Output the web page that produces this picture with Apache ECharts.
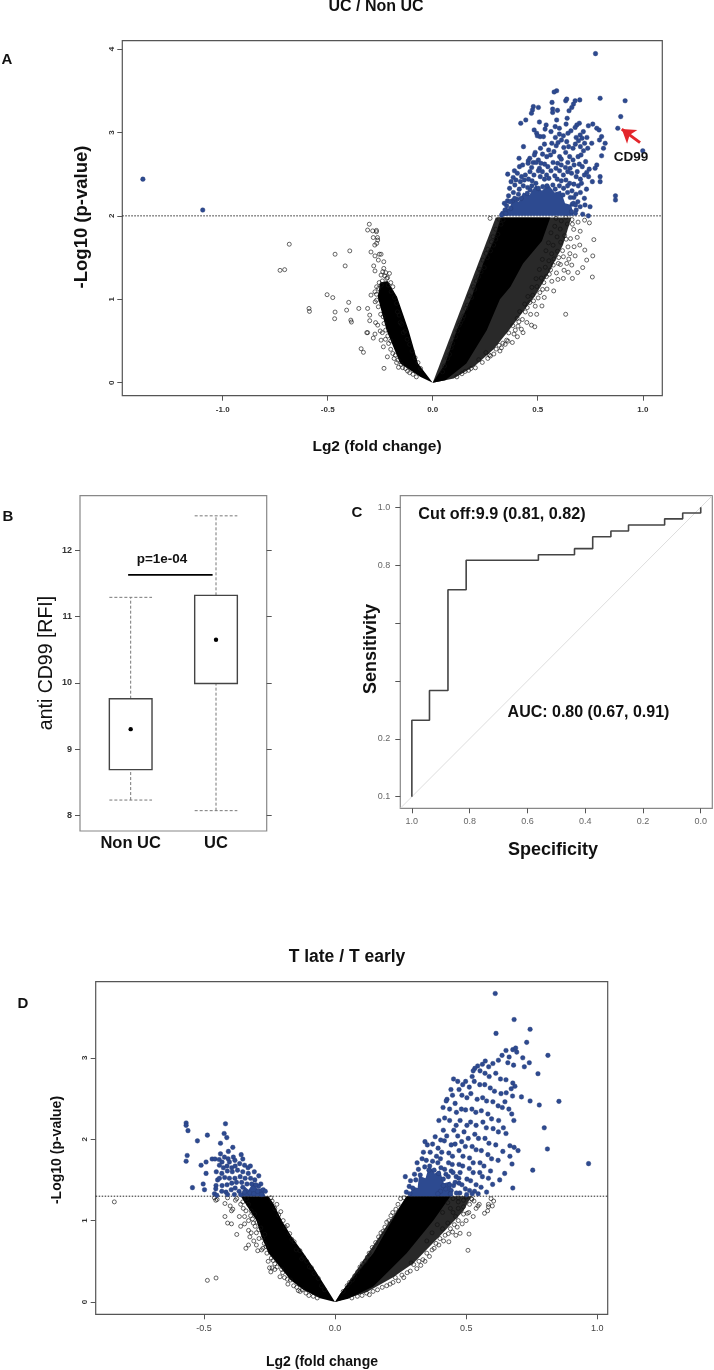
<!DOCTYPE html>
<html><head><meta charset="utf-8">
<style>html,body{margin:0;padding:0;background:#fff}#c{width:714px;height:1370px}</style>
<script src="https://cdn.jsdelivr.net/npm/echarts@6/dist/echarts.min.js"></script>
</head><body><div id="c"></div>
<script>
// Panel A
const aTicksX=[-1,-0.5,0,0.5,1];
const aTicksY=[0,1,2,3,4];
const aThreshold=2;
const aCoreRight=[[0,0],[.06,.23],[.114,.63],[.186,1.03],[.24,1.43],[.29,1.7],[.325,1.98],[.56,1.98],[.52,1.7],[.43,1.43],[.37,1.15],[.32,1],[.257,.63],[.16,.23],[.06,.03]];
const aSpeckleRight=[[.3,1.98],[.66,1.98],[.62,1.65],[.56,1.35],[.49,1.05],[.43,.85],[.36,.62],[.29,.4],[.2,.2],[.1,.05],[0,0]];
const aCoreLeft=[[0,0],[-.06,.07],[-.155,.23],[-.22,.63],[-.262,1.03],[-.25,1.2],[-.215,1.22],[-.17,1.03],[-.115,.63],[-.07,.23]];
const aBlueCore=[[.335,2],[.35,2.1],[.365,2.08],[.38,2.2],[.41,2.17],[.43,2.28],[.46,2.25],[.49,2.37],[.52,2.3],[.55,2.38],[.58,2.28],[.61,2.3],[.63,2.15],[.66,2.13],[.67,2]];
const aBlack=[[-.683,1.66],[-.705,1.355],[-.727,1.347],[-.465,1.54],[-.395,1.58],[-.417,1.4],[-.503,1.055],[-.476,1.02],[-.4,.963],[-.352,.89],[-.31,.89],[-.589,.89],[-.587,.855],[-.465,.847],[-.41,.87],[-.467,.767],[-.39,.75],[-.387,.727],[-.3,.81],[-.3,.743],[-.31,.6],[-.314,.6],[-.275,.583],[-.283,.535],[-.341,.407],[-.33,.364],[-.232,.172],[-.163,.184],[-.216,.31],[-.235,.43],[-.246,.51],[-.294,1.05],[-.302,1.9],[-.31,1.83],[-.286,1.82],[-.268,1.826],[-.268,1.81],[-.263,1.74],[-.283,1.74],[-.262,1.71],[-.267,1.67],[-.276,1.65],[-.294,1.567],[-.275,1.52],[-.254,1.54],[-.246,1.54],[-.259,1.47],[-.233,1.45],[-.281,1.4],[-.275,1.34],[-.233,1.37],[-.246,1.29],[-.206,1.31],[-.219,1.25],[-.19,1.15],[-.267,1.15],[-.275,1.09],[-.267,.99],[-.259,.91],[-.24,1.22],[-.255,1.2],[-.228,1.28],[-.272,.72],[-.262,.69],[-.25,.62],[-.24,.6],[-.225,.52],[-.21,.47],[-.2,.4],[-.19,.35],[-.178,.33],[-.165,.27],[-.15,.22],[-.13,.17],[-.11,.12],[-.168,.85],[-.155,.72],[-.14,.6],
[-.274,.97],[-.268,1.06],[-.258,1.13],[-.245,1.17],[-.236,.79],[-.248,.82],[-.232,.71],[-.224,.63],[-.214,.56],[-.2,.5],[-.184,.29],[-.172,.24],[-.143,.18],[-.12,.14],[-.094,.1],[-.078,.07],[-.212,1.17],[-.198,1.09],[-.182,1.02],[-.172,.95],[-.16,.81],[-.148,.7],[-.131,.62],[-.122,.52],[-.11,.46],[-.098,.38],[-.084,.3],[-.07,.24],[-.058,.17],[-.224,1.32],[-.238,1.33],[-.215,1.26],[-.2,1.2],
[.767,1.715],[.724,1.59],[.762,1.52],[.733,1.47],[.76,1.267],[.714,1.38],[.69,1.32],[.633,.82],[.576,1.1],[.52,.92],[.495,.82],[.486,.67],[.47,.69],[.43,.6],[.32,.38],[.27,.33],[.352,.51],[.673,1.63],[.7,1.65],[.678,1.52],[.622,1.51],[.598,1.43],[.662,1.41],[.638,1.43],[.665,1.25],[.622,1.25],[.273,1.97],
[.315,1.96],[.325,1.9],[.3,1.84],[.31,1.78],[.335,1.95],[.3,1.72],[.29,1.65],[.275,1.58],[.262,1.6],[.26,1.5],[.245,1.38],[.23,1.33],[.218,1.27],[.2,1.12],[.185,1.02],[.165,.93],[.148,.8],[.132,.72],[.118,.62],[.095,.47],[.08,.34],[.287,1.75],[.279,1.69],[.254,1.55],[.238,1.47],[.222,1.36],[.207,1.22],[.193,1.15],[.175,1.04],[.157,.89],[.141,.76],[.126,.69],[.108,.55],[.088,.42],[.071,.29],[.056,.2],[.047,.13],
[.587,1.97],[.612,1.94],[.634,1.985],[.663,1.955],[.692,1.925],[.723,1.948],[.746,1.916],[.581,1.875],[.607,1.842],[.641,1.902],[.671,1.838],[.702,1.816],[.563,1.797],[.592,1.748],[.628,1.763],[.656,1.727],[.688,1.742],[.551,1.677],[.573,1.648],[.609,1.684],[.644,1.628],[.539,1.582],[.566,1.546],[.594,1.576],[.618,1.583],[.653,1.547],[.522,1.478],[.553,1.462],[.577,1.484],[.608,1.417],[.648,1.482],[.508,1.357],[.536,1.384],[.561,1.352],[.589,1.316],[.625,1.348],[.645,1.324],[.492,1.247],[.517,1.254],[.541,1.271],[.567,1.216],[.596,1.238],[.472,1.143],[.496,1.152],[.523,1.118],[.544,1.123],[.453,1.034],[.476,1.048],[.502,1.016],[.531,1.022],[.438,.943],[.462,.961],[.488,.917],[.414,.853],[.441,.848],[.466,.819],[.402,.772],[.427,.758],[.448,.722],[.381,.684],[.406,.678],[.422,.641],[.362,.597],[.387,.583],[.403,.551],[.334,.474],[.358,.498],[.379,.482],[.302,.403],[.327,.418],[.262,.291],[.291,.344],[.236,.243],[.203,.178],[.171,.148],[.139,.107],[.219,.276],[.253,.361],[.115,.07],[.182,.17],[.316,.448],[.41,.73],[.45,.9],[.51,1.08],[.555,1.3],[.6,1.5],[.635,1.72],[.665,1.9],[.574,1.41],[.529,1.2],[.48,.98],[.393,.63],[.345,.46],[.275,.32],[.154,.135]];
const aBlue=[[-1.38,2.44],[-1.095,2.07],[.775,3.945],[.797,3.41],[.916,3.38],[.895,3.19],[.881,3.05],[1,2.78],[.87,2.24],[.87,2.19],[.59,3.5],[.578,3.485],[.568,3.36],[.633,3.38],[.638,3.4],[.678,3.38],[.67,3.34],[.7,3.39],[.662,3.3],[.649,3.26],[.479,3.31],[.503,3.3],[.475,3.27],[.47,3.23],[.571,3.28],[.594,3.265],[.571,3.24],[.419,3.11],[.443,3.15],[.508,3.125],[.64,3.17],[.635,3.1],[.59,3.15],[.54,3.09],[.583,3.07],[.603,3.05],[.535,3.04],[.483,3.03],[.495,2.99],[.511,2.95],[.498,2.96],[.527,2.95],[.698,3.11],[.686,3.09],[.678,3.06],[.741,3.08],[.762,3.1],[.781,3.05],[.792,3.03],[.717,3.01],[.702,2.97],[.804,2.95],[.794,2.91],[.821,2.87],[.757,2.87],[.813,2.81],[.804,2.72],[.781,2.61],[.773,2.57],[.797,2.47],[.797,2.41],[.76,2.41],[.432,2.83],[.411,2.69],[.357,2.5],[.725,2.13],[.749,2.11],[.741,2],[.714,2.02],
[.563,3.01],[.584,2.94],[.603,2.98],[.613,2.91],[.622,2.96],[.644,2.99],[.658,3.02],[.683,2.94],[.694,2.9],[.711,2.93],[.723,2.87],[.734,2.94],[.567,2.87],[.588,2.84],[.597,2.88],[.624,2.82],[.638,2.89],[.647,2.83],[.668,2.81],[.679,2.86],[.703,2.83],[.718,2.78],[.738,2.81],[.513,2.81],[.532,2.86],[.552,2.79],[.488,2.76],[.462,2.69],[.484,2.73],[.503,2.67],[.523,2.74],[.543,2.71],[.561,2.73],[.577,2.77],[.604,2.71],[.612,2.68],[.633,2.76],[.652,2.71],[.668,2.67],[.692,2.71],[.706,2.73],[.455,2.66],[.478,2.64],[.515,2.63],[.595,2.63],[.643,2.64],[.728,2.65],[.745,2.56],[.698,2.62],
[.389,2.54],[.413,2.59],[.428,2.61],[.454,2.63],[.471,2.58],[.492,2.64],[.508,2.57],[.533,2.62],[.548,2.59],[.573,2.64],[.587,2.57],[.612,2.61],[.632,2.58],[.654,2.57],[.673,2.61],[.688,2.53],[.712,2.59],[.733,2.52],[.742,2.47],[.722,2.49],[.703,2.44],[.683,2.47],[.661,2.51],[.643,2.53],[.622,2.49],[.604,2.54],[.581,2.48],[.563,2.54],[.542,2.49],[.522,2.53],[.503,2.54],[.482,2.49],[.463,2.53],[.441,2.49],[.423,2.47],[.403,2.51],[.383,2.46],[.373,2.41],[.396,2.43],[.417,2.41],[.436,2.43],[.456,2.44],[.473,2.42],[.366,2.33],[.391,2.37],[.412,2.32],[.431,2.36],[.452,2.34],[.672,2.38],[.693,2.36],[.708,2.39],[.732,2.32],[.663,2.3],[.682,2.26],[.703,2.28],[.722,2.21],[.691,2.17],[.672,2.22],[.702,2.11],[.683,2.07],[.664,2.14],[.352,2.12],[.361,2.24],[.344,2.07],[.333,2.03],[.356,2.18],[.384,2.28],[.408,2.26],[.612,2.42],[.634,2.43],[.593,2.44],[.553,2.45],[.532,2.44],[.512,2.47],[.652,2.39],[.472,2.36],[.491,2.39],[.371,2.09],[.379,2.18],[.402,2.2],[.421,2.21],[.328,2.01],[.679,2.03],[.661,2.05],[.642,2.28],[.623,2.33],[.603,2.36],[.572,2.37],[.544,2.36],[.524,2.35],[.503,2.33],[.583,2.32],[.62,2.25],[.45,2.27],[.464,2.31],[.348,2.03],[.341,2.15],[.368,2.17],[.39,2.21],[.67,2.15],[.655,2.22],[.68,2.13],[.642,2.36]];
const aArrow=[[.987,2.878],[.9,3.04]];

// Panel B
const bCategories=["Non UC","UC"];
const bTicksY=[8,9,10,11,12];
const bBoxes=[[1,8.23,8.69,9.3,9.76,11.29],[2,8.07,9.99,10.65,11.32,12.52]];
const bBracket=[[.97,11.63],[1.96,11.63]];

// Panel C
const cTicksX=[1,.8,.6,.4,.2,0];
const cTicksY=[0,.2,.4,.6,.8,1];
const cTickLabelsY=["0.1","0.2","","","0.8","1.0"];
const cRoc=[[1,0],[1,.264],[.939,.264],[.939,.367],[.875,.367],[.875,.715],[.812,.715],[.812,.817],[.562,.817],[.562,.836],[.437,.836],[.437,.857],[.374,.857],[.374,.898],[.311,.898],[.311,.918],[.25,.918],[.25,.939],[.125,.939],[.125,.96],[.0625,.96],[.0625,.98],[0,.98],[0,1]];
const cDiagonal=[[1.04,-.04],[-.04,1.04]];

// Panel D
const dTicksX=[-.5,0,.5,1];
const dTicksY=[0,1,2,3];
const dThreshold=1.3;
const dCoreRight=[[0,0],[.019,.1],[.08,.34],[.146,.6],[.21,.96],[.248,1.17],[.273,1.3],[.44,1.3],[.375,1],[.273,.6],[.146,.19],[.05,.04]];
const dSpeckleRight=[[.273,1.3],[.52,1.3],[.49,1.12],[.42,.88],[.36,.68],[.3,.48],[.22,.3],[.12,.12],[0,0]];
const dCoreLeft=[[0,0],[-.076,.39],[-.12,.6],[-.165,.8],[-.203,1],[-.235,1.21],[-.254,1.3],[-.36,1.3],[-.3,1],[-.28,.8],[-.254,.6],[-.21,.43],[-.17,.27],[-.12,.147],[-.057,.045]];
const dBlueCoreRight=[[.285,1.3],[.295,1.42],[.315,1.4],[.32,1.55],[.345,1.52],[.36,1.68],[.38,1.58],[.4,1.62],[.415,1.46],[.44,1.48],[.45,1.3]];
const dBlueCoreLeft=[[-.36,1.3],[-.345,1.42],[-.33,1.38],[-.31,1.47],[-.295,1.38],[-.28,1.4],[-.265,1.3]];
const dBlack=[[-.842,1.23],[-.487,.266],[-.454,.295],[.507,.635],[.511,.835],[.477,.844],[.461,.82],[.434,.74],
[-.46,1.28],[-.455,1.25],[-.45,1.26],[-.42,1.21],[-.42,1.05],[-.41,.97],[-.395,.96],[-.39,1.14],[-.395,1.12],[-.375,.83],[-.365,1.05],[-.36,.93],[-.345,.96],[-.34,1.12],[-.345,1.05],[-.33,1],[-.33,.88],[-.325,.8],[-.34,.66],[-.33,.7],[-.32,.85],[-.31,.75],[-.305,.93],[-.3,.7],[-.295,.63],[-.28,.64],[-.27,.72],[-.255,.5],[-.25,.42],[-.245,.37],[-.24,.42],[-.23,.4],[-.21,.31],[-.18,.22],[-.14,.14],[-.36,1.2],[-.38,1.25],[-.4,1.18],[-.41,1.28],[-.35,1.15],[-.33,1.2],[-.32,1.12],[-.315,1.02],[-.3,.85],[-.29,.78],[-.275,.66],[-.26,.6],[-.23,.47],[-.2,.36],[-.17,.27],[-.125,.15],[-.1,.08],[-.245,1.28],[-.23,1.15],[-.215,1.07],[-.19,.92],[-.165,.77],[-.12,.55],[-.09,.42],
[-.375,1.27],[-.352,1.23],[-.338,1.27],[-.322,1.06],[-.307,1.08],[-.312,.97],[-.297,.98],[-.291,.89],[-.283,.91],[-.276,.79],[-.268,.83],[-.263,.68],[-.243,.54],[-.236,.51],[-.221,.43],[-.204,.4],[-.193,.3],[-.182,.28],[-.158,.2],[-.146,.18],[-.133,.13],[-.111,.11],[-.083,.07],[-.068,.05],[-.222,1.2],[-.207,1.11],[-.198,1],[-.182,.94],[-.173,.84],[-.156,.74],[-.148,.64],[-.134,.63],[-.127,.53],[-.108,.5],[-.098,.43],[-.08,.35],[-.064,.29],[-.052,.2],[-.04,.15],[-.24,1.24],
[.45,1.27],[.47,1.28],[.49,1.25],[.5,1.29],[.52,1.27],[.53,1.24],[.55,1.2],[.545,1.18],[.57,1.09],[.582,1.12],[.585,1.2],[.6,1.18],[.585,1.17],[.605,1.24],[.595,1.27],[.47,1.15],[.49,1.17],[.51,1.1],[.5,1],[.49,1.08],[.47,1],[.455,.95],[.44,.9],[.46,1.05],[.44,1.15],[.42,.82],[.41,.9],[.4,.78],[.385,.72],[.37,.64],[.35,.6],[.335,.52],[.32,.5],[.3,.46],[.29,.48],[.275,.36],[.255,.33],[.23,.3],[.21,.22],[.18,.18],[.145,.13],[.12,.11],[.085,.07],[.43,1.22],[.41,1.1],[.39,.95],[.37,.85],[.35,.75],[.47,1.23],[.45,1.1],[.43,.97],
[.24,1.2],[.22,1.1],[.205,1],[.19,.92],[.175,.85],[.155,.73],[.13,.6],[.115,.5],[.095,.43],[.075,.32],[.055,.24],[.25,1.27],[.263,1.28],[.232,1.14],[.213,1.06],[.197,.98],[.183,.87],[.166,.8],[.142,.67],[.123,.55],[.104,.47],[.086,.37],[.066,.27],[.046,.2],[.031,.13],
[.522,1.26],[.513,1.2],[.538,1.15],[.527,1.05],[.504,1.09],[.485,.96],[.466,.92],[.448,.86],[.432,.84],[.414,.75],[.396,.7],[.378,.66],[.36,.56],[.343,.5],[.327,.45],[.312,.41],[.287,.38],[.262,.3],[.242,.26],[.221,.24],[.197,.2],[.162,.15],[.131,.09],[.103,.08],[.064,.05]];
const dBlue=[[.611,3.79],[.683,3.47],[.614,3.3],[.744,3.35],[.731,3.19],[.812,3.03],[.652,3.09],[.678,3.1],[.689,3.12],[.693,3.07],[.716,3],[.741,2.94],[.722,2.89],[.774,2.805],[.854,2.465],[.779,2.42],[.744,2.47],[.711,2.52],[.798,2.14],[.81,1.88],[.967,1.7],[.754,1.62],[.678,1.4],[.675,1.695],[.698,1.86],[.683,1.9],[.667,1.92],[.667,1.79],[.64,1.85],[.647,1.58],[.628,1.5],[.601,1.445],[.585,1.52],
[.623,2.97],[.637,3.03],[.664,3.01],[.659,2.94],[.681,2.91],[.602,2.93],[.586,2.89],[.573,2.96],[.562,2.92],[.544,2.9],[.533,2.87],[.527,2.84],[.553,2.84],[.572,2.81],[.588,2.77],[.613,2.81],[.631,2.74],[.652,2.73],[.678,2.69],[.686,2.65],[.672,2.62],[.653,2.57],[.677,2.53],[.523,2.77],[.498,2.71],[.487,2.67],[.512,2.64],[.531,2.71],[.552,2.67],[.571,2.67],[.592,2.63],[.608,2.59],[.633,2.56],[.648,2.46],[.663,2.37],[.674,2.31],[.682,2.23],[.452,2.74],[.468,2.71],[.473,2.61],[.448,2.54],[.427,2.49],[.442,2.61],[.458,2.44],[.484,2.54],[.503,2.51],[.518,2.56],[.542,2.49],[.563,2.51],[.578,2.47],[.602,2.46],[.622,2.41],[.638,2.39],[.424,2.47],[.412,2.39],[.437,2.37],[.463,2.33],[.482,2.37],[.498,2.36],[.522,2.37],[.537,2.33],[.558,2.35],[.583,2.31],[.597,2.25],[.624,2.23],[.642,2.14],[.652,2.07],[.623,2.09],[.603,2.13],[.577,2.14],[.564,2.21],[.538,2.17],[.517,2.21],[.503,2.17],[.477,2.23],[.462,2.17],[.437,2.23],[.418,2.26],[.396,2.23],[.413,2.11],[.426,2.04],[.453,2.11],[.468,2.04],[.492,2.09],[.508,2.01],[.533,2.06],[.547,2.01],[.572,2.01],[.587,1.95],[.613,1.93],[.622,1.74],[.597,1.76],[.583,1.81],[.558,1.86],[.538,1.87],[.523,1.91],[.497,1.91],[.483,1.97],[.458,1.94],[.443,1.93],[.417,1.98],[.403,1.99],[.382,2.03],[.372,1.94],[.393,1.89],[.407,1.84],[.434,1.83],[.448,1.79],[.473,1.86],[.488,1.79],[.513,1.77],[.527,1.71],[.553,1.71],[.568,1.67],[.593,1.61],[.562,1.54],[.552,1.59],[.527,1.59],[.512,1.64],[.487,1.67],[.473,1.69],[.447,1.69],[.433,1.71],[.402,1.76],[.387,1.79],[.363,1.84],[.352,1.93],[.343,1.97],[.332,1.76],[.313,1.71],[.337,1.84],[.348,1.74],[.372,1.73],[.318,1.63],[.303,1.57],[.288,1.49],[.272,1.35],[.283,1.42],[.268,1.54],[.462,1.54],[.477,1.59],[.503,1.51],[.517,1.49],[.538,1.44],[.443,1.61],[.418,1.63],[.404,1.65],[.437,1.44],[.452,1.43],[.473,1.46],[.497,1.39],[.513,1.37],[.532,1.36],[.557,1.41],[.578,1.35],[.546,1.33],[.502,1.32],[.476,1.34],[.463,1.34],[.443,1.37],[.523,1.33],[.432,1.54],[.413,1.51],[.422,1.39],[.392,1.71],[.361,1.67],[.342,1.66],[.358,1.62],[.378,1.62],[.395,1.58],[.325,1.56],[.308,1.5],[.296,1.4],[.285,1.33],[.44,1.33],[.458,1.47],[.484,1.44],[.472,1.52],[.423,1.57],[.45,1.59],[.413,1.43],[.402,1.36],[.392,1.33],
[-.568,2.2],[-.568,2.17],[-.561,2.105],[-.418,2.19],[-.487,2.05],[-.423,2.07],[-.413,2.02],[-.525,1.98],[-.437,1.95],[-.39,1.9],[-.407,1.85],[-.564,1.8],[-.568,1.73],[-.511,1.68],[-.492,1.72],[-.492,1.58],[-.503,1.45],[-.544,1.405],[-.498,1.38],[-.454,1.43],[-.455,1.39],[-.46,1.33],[-.451,1.31],[-.437,1.82],[-.469,1.757],[-.458,1.757],[-.358,1.81],[-.352,1.757],
[-.442,1.75],[-.431,1.72],[-.422,1.78],[-.408,1.76],[-.403,1.72],[-.388,1.78],[-.382,1.74],[-.441,1.68],[-.426,1.65],[-.412,1.67],[-.394,1.65],[-.381,1.67],[-.364,1.7],[-.345,1.68],[-.332,1.65],[-.323,1.67],[-.308,1.6],[-.291,1.55],[-.283,1.45],[-.292,1.42],[-.274,1.38],[-.266,1.36],[-.331,1.58],[-.352,1.6],[-.372,1.62],[-.392,1.6],[-.411,1.61],[-.432,1.58],[-.453,1.6],[-.448,1.5],[-.441,1.52],[-.421,1.53],[-.403,1.52],[-.382,1.52],[-.362,1.54],[-.343,1.52],[-.322,1.52],[-.306,1.5],[-.431,1.43],[-.412,1.44],[-.394,1.46],[-.376,1.47],[-.356,1.47],[-.432,1.36],[-.416,1.35],[-.396,1.38],[-.381,1.4],[-.384,1.32],[-.366,1.36],[-.352,1.41],[-.336,1.45],[-.318,1.45],[-.302,1.44],[-.36,1.32],[-.345,1.35],[-.325,1.34],[-.31,1.33],[-.295,1.36],[-.28,1.32],[-.41,1.32]];

const GRID={
 a:{left:122.3,top:40.7,width:540,height:355,c:'#555'},
 b:{left:80,top:495.7,width:186.7,height:335.3,c:'#888'},
 c:{left:400.3,top:495.7,width:312,height:312.6,c:'#888'},
 d:{left:95.7,top:981.7,width:512,height:332.6,c:'#555'}
};
const FONT='"Liberation Sans",Arial,sans-serif';
function grid(g){return {show:true,left:g.left,top:g.top,width:g.width,height:g.height,borderColor:g.c,borderWidth:1.2,backgroundColor:'transparent',containLabel:false};}
function axis(type,gridIndex,min,max,ticks,label,extra){
  const base={type:'value',gridIndex,min,max,inverse:false,splitLine:{show:false},
    axisLine:{show:false,onZero:false},
    axisTick:{show:true,length:5,customValues:ticks,lineStyle:{color:'#555',width:1}},
    axisLabel:Object.assign({show:true,customValues:ticks,fontFamily:FONT,hideOverlap:false,showMinLabel:true,showMaxLabel:true},label)};
  return Object.assign(base,extra||{});
}
function poly(pts,color,xi,z){
  return {type:'custom',coordinateSystem:'cartesian2d',xAxisIndex:xi,yAxisIndex:xi,silent:true,z:z,clip:true,data:[pts[0]],
    renderItem:function(p,api){return {type:'polygon',shape:{points:pts.map(q=>api.coord(q))},style:{fill:color}};}};
}
function dots(pts,open,idx,yi,z){
  return {type:'scatter',xAxisIndex:idx,yAxisIndex:yi,data:pts,symbol:'circle',symbolSize:open?4:4.6,z:z,silent:true,clip:true,large:false,
    itemStyle:open?{color:'rgba(255,255,255,0)',borderColor:'#111',borderWidth:.8}:{color:'#2d4a90',borderColor:'#263a73',borderWidth:.4,opacity:1}};
}
function hline(v,range,idx,yi){
  return {type:'line',xAxisIndex:idx,yAxisIndex:yi,data:[[range[0],v],[range[1],v]],symbol:'none',z:5,silent:true,lineStyle:{color:'#222',width:1,type:[1.5,1.5]}};
}
const AX=[-1.478,1.093],AY=[-.156,4.1],DX=[-.913,1.04],DY=[-.151,3.935];
const smallY={rotate:90,fontSize:8,color:'#333',margin:7,fontWeight:'bold',align:'center',verticalAlign:'bottom'};
function T(text,x,y,size,weight,rot){
  return {type:'text',x:x,y:y,rotation:rot?Math.PI/2:0,z:20,silent:true,
    style:{text:text,fontFamily:FONT,fontSize:size,fontWeight:weight,fill:'#111',textAlign:'center',textVerticalAlign:'middle'}};
}
const SPECK='rgba(0,0,0,0.84)',BLUE='#2d4a90';
const option={animation:false,backgroundColor:'#fff',
 grid:[grid(GRID.a),grid(GRID.b),grid(GRID.c),grid(GRID.d)],
 xAxis:[
  axis('x',0,AX[0],AX[1],aTicksX,{fontSize:8,color:'#333',margin:10,fontWeight:'bold',formatter:v=>v.toFixed(1)},{position:'bottom'}),
  axis('x',1,.406,2.594,[1,2],{fontSize:16.5,fontWeight:'bold',color:'#111',margin:4,formatter:v=>bCategories[v-1]},{position:'bottom',axisTick:{show:false}}),
  axis('x',2,-.04,1.04,cTicksX,{fontSize:9,color:'#666',margin:9,formatter:v=>v.toFixed(1)},{position:'bottom',inverse:true}),
  axis('x',3,DX[0],DX[1],dTicksX,{fontSize:9,color:'#444',margin:10,formatter:v=>v.toFixed(1)},{position:'bottom'})
 ],
 yAxis:[
  axis('y',0,AY[0],AY[1],aTicksY,Object.assign({},smallY,{formatter:v=>String(v)}),{position:'left'}),
  axis('y',1,7.763,12.824,bTicksY,{fontSize:9,fontWeight:'bold',color:'#333',margin:8,formatter:v=>String(v)},{position:'left'}),
  axis('y',2,-.04,1.04,cTicksY,{fontSize:9,color:'#666',margin:10,formatter:v=>cTickLabelsY[cTicksY.indexOf(v)]},{position:'left'}),
  axis('y',3,DY[0],DY[1],dTicksY,Object.assign({},smallY,{formatter:v=>String(v)}),{position:'left'}),
  axis('y',1,7.763,12.824,bTicksY,{show:false},{position:'right'})
 ],
 series:[
  poly(aSpeckleRight,SPECK,0,1),poly(aCoreRight,'#000',0,2),poly(aCoreLeft,'#000',0,2),dots(aBlack,true,0,0,3),hline(aThreshold,AX,0,0),
  poly(aBlueCore,BLUE,0,6),dots(aBlue,false,0,0,7),
  {type:'line',xAxisIndex:0,yAxisIndex:0,data:[],silent:true,z:9,
   markLine:{silent:true,animation:false,symbol:['none','arrow'],symbolSize:13,label:{show:false},lineStyle:{color:'#e3262b',width:3,type:'solid'},
     data:[[{coord:aArrow[0]},{coord:aArrow[1]}]]}},
  {type:'custom',coordinateSystem:'cartesian2d',xAxisIndex:1,yAxisIndex:1,data:bBoxes,silent:true,z:4,
   renderItem:function(p,api){
     const x=api.value(0),lo=api.value(1),q1=api.value(2),m=api.value(3),q3=api.value(4),hi=api.value(5),w=.25;
     const L=(a,b)=>({type:'line',shape:{x1:a[0],y1:a[1],x2:b[0],y2:b[1]},style:{stroke:'#777',lineWidth:1,lineDash:[3,2]}});
     const tl=api.coord([x-w,q3]),br=api.coord([x+w,q1]),c=api.coord([x,m]);
     return {type:'group',children:[
       L(api.coord([x,lo]),api.coord([x,q1])),L(api.coord([x,q3]),api.coord([x,hi])),
       L(api.coord([x-w,lo]),api.coord([x+w,lo])),L(api.coord([x-w,hi]),api.coord([x+w,hi])),
       {type:'rect',shape:{x:tl[0],y:tl[1],width:br[0]-tl[0],height:br[1]-tl[1]},style:{fill:'#fff',stroke:'#444',lineWidth:1.4}},
       {type:'circle',shape:{cx:c[0],cy:c[1],r:2.2},style:{fill:'#000'}}]};
   }},
  {type:'line',xAxisIndex:1,yAxisIndex:1,data:bBracket,symbol:'none',silent:true,z:5,lineStyle:{color:'#000',width:1.8}},
  {type:'line',xAxisIndex:2,yAxisIndex:2,data:cDiagonal,symbol:'none',silent:true,z:2,lineStyle:{color:'#ddd',width:1}},
  {type:'line',xAxisIndex:2,yAxisIndex:2,data:cRoc,symbol:'none',silent:true,z:3,lineStyle:{color:'#444',width:1.6}},
  poly(dSpeckleRight,SPECK,3,1),poly(dCoreRight,'#000',3,2),poly(dCoreLeft,'#000',3,2),dots(dBlack,true,3,3,3),hline(dThreshold,DX,3,3),
  poly(dBlueCoreRight,BLUE,3,6),poly(dBlueCoreLeft,BLUE,3,6),dots(dBlue,false,3,3,7)
 ],
 graphic:[
  T('UC / Non UC',376,7,16,'bold'),T('T late / T early',347,957,17.5,'bold'),
  T('A',7,60,15,'bold'),T('B',8,517,15,'bold'),T('C',357,513,15,'bold'),T('D',23,1004,15,'bold'),
  T('-Log10 (p-value)',82,217,18.5,'bold',-1),T('Lg2 (fold change)',377,447,15.5,'bold'),T('CD99',631,157,13.5,'bold'),
  T('anti CD99 [RFI]',47,663,19.5,'normal',-1),T('p=1e-04',162,559,13.5,'bold'),
  T('Sensitivity',371,649,18,'bold',-1),T('Specificity',553,850,18,'bold'),
  T('Cut off:9.9 (0.81, 0.82)',502,515,16.2,'bold'),T('AUC: 0.80 (0.67, 0.91)',588.5,713,16,'bold'),
  T('-Log10 (p-value)',57,1150,14,'bold',-1),T('Lg2 (fold change',322,1362,14,'bold')
 ]
};
echarts.init(document.getElementById('c'),null,{renderer:'canvas'}).setOption(option);
</script></body></html>
